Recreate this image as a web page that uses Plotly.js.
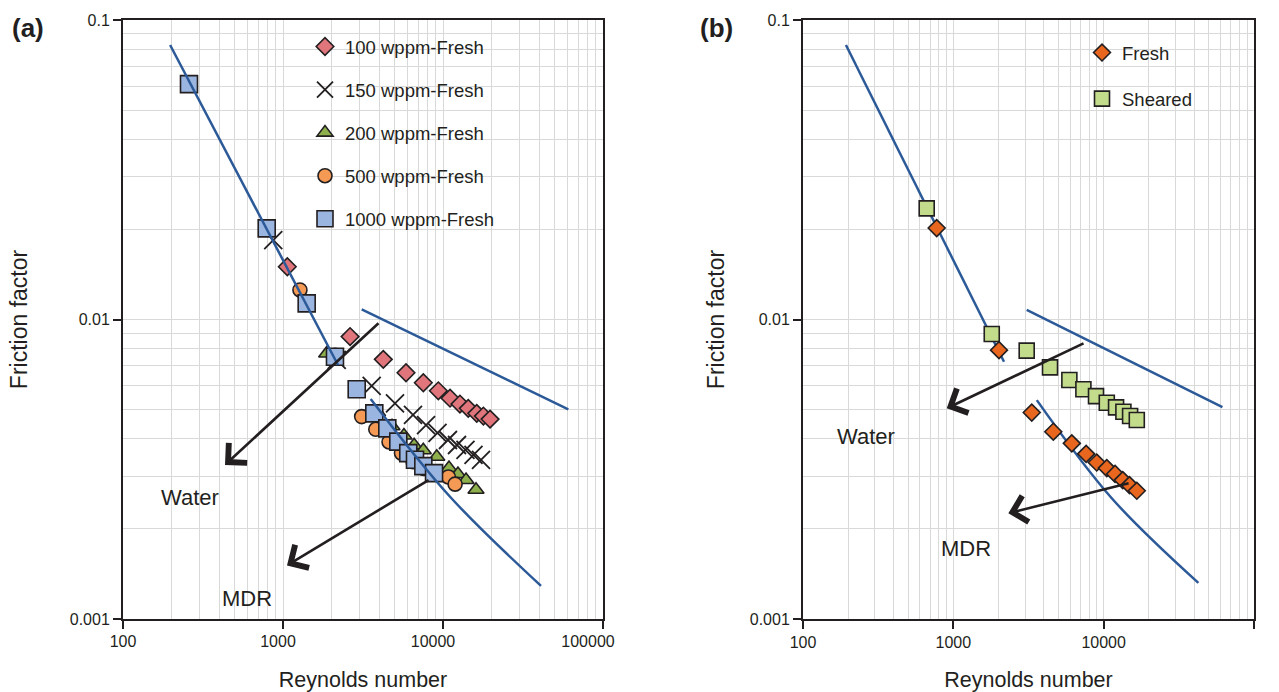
<!DOCTYPE html>
<html>
<head>
<meta charset="utf-8">
<script src="https://cdn.plot.ly/plotly-3.0.1.min.js"></script>
<style>html,body{margin:0;padding:0;background:#fff;}#chart{width:1279px;height:692px;}</style>
</head>
<body>
<div id="chart"></div>
<script>
// ---------- Panel (a) data: Reynolds number vs friction factor ----------
const re100 = [1064, 2625, 4234, 5873, 7535, 9352, 11070, 12760, 14380, 16250, 17880, 19680];
const f100  = [0.0150, 0.00877, 0.00736, 0.00664, 0.00615, 0.00578, 0.00546, 0.00522, 0.00505, 0.00486, 0.00476, 0.00465];
const re150 = [869, 2167, 3583, 5012, 6494, 7834, 9240, 10740, 12230, 13820, 15510, 17280];
const f150  = [0.0184, 0.00733, 0.0060, 0.00525, 0.0048, 0.00444, 0.00418, 0.00396, 0.00381, 0.00367, 0.00353, 0.0034];
const re200 = [1875, 3900, 4800, 5700, 6600, 7530, 9140, 10900, 12400, 13930, 16080];
const f200  = [0.0077, 0.0049, 0.0044, 0.0041, 0.0038, 0.00366, 0.00348, 0.00319, 0.00305, 0.00291, 0.0027];
const re500 = [1276, 2120, 3102, 3800, 4600, 5500, 6500, 7600, 8900, 10800, 11900];
const f500  = [0.01255, 0.0076, 0.00474, 0.0043, 0.0039, 0.00358, 0.00335, 0.00318, 0.00306, 0.00298, 0.00282];
const re1000 = [258.5, 791, 1406, 2113, 2888, 3721, 4487, 5256, 6067, 6683, 7535, 8790];
const f1000  = [0.0611, 0.02015, 0.01132, 0.00751, 0.00585, 0.00486, 0.00433, 0.00391, 0.00358, 0.0034, 0.00324, 0.00307];
// reference lines (a)
const reLamA = [197, 2207];   const fLamA = [0.0825, 0.00705];
const reTurbA = [3104, 60700]; const fTurbA = [0.0108, 0.00501];
const reMdrA = [3532, 11070, 40980]; const fMdrA = [0.00543, 0.00256, 0.00129];

// ---------- Panel (b) data ----------
const reFresh = [775, 2013, 3324, 4624, 6139, 7643, 8995, 10490, 11910, 13400, 14850, 16610];
const fFresh  = [0.0202, 0.0079, 0.00489, 0.00422, 0.00386, 0.00356, 0.00333, 0.00319, 0.00305, 0.00291, 0.0028, 0.00268];
const reSheared = [665, 1801, 3076, 4397, 5914, 7330, 8895, 10490, 12090, 13530, 14990, 16610];
const fSheared  = [0.0235, 0.00895, 0.00787, 0.00692, 0.00628, 0.00585, 0.00555, 0.00527, 0.00509, 0.00492, 0.00476, 0.00462];
const reLamB = [193, 2173];    const fLamB = [0.0825, 0.00723];
const reTurbB = [3076, 61660]; const fTurbB = [0.01077, 0.0051];
const reMdrB = [3591, 11320, 42660]; const fMdrB = [0.00538, 0.00253, 0.00132];

// ---------- Axis ticks ----------
const xTickVals = [100, 1000, 10000, 100000];
const xTickText = ['100', '1000', '10000', '100000'];
const yTickVals = [0.001, 0.01, 0.1];
const yTickText = ['0.001', '0.01', '0.1'];

// arrows: [tailRe, tailF, headRe, headF]
const arrowWaterA = [4039, 0.00982, 434, 0.00327];
const arrowMdrA   = [8300, 0.00293, 1059, 0.00151];
const arrowWaterB = [7516, 0.00837, 904, 0.00505];
const arrowMdrB   = [14990, 0.00285, 2323, 0.002255];

function minorVals(decades) {
  const out = [];
  decades.forEach(d => { for (let k = 2; k <= 9; k++) out.push(k * d); });
  return out;
}
const xMinor = minorVals([100, 1000, 10000]);
const yMinor = minorVals([0.001, 0.01]);

const INK = '#231f20';
const BLUE = '#2c5a98';
const FONT = 'Liberation Sans, Arial, sans-serif';
const mline = {color: INK, width: 1.6};

const traces = [
  // empty trace that carries the (slightly compressed) tick-label scale of panel (a)
  {x: [], y: [], xaxis: 'x3', yaxis: 'y3', mode: 'markers', showlegend: false, hoverinfo: 'skip'},
  {x: re100, y: f100, name: '100 wppm-Fresh', mode: 'markers', legendgroup: 'g1',
   marker: {symbol: 'diamond', size: 13.5, color: '#e0757b', line: mline}},
  {x: re150, y: f150, name: '150 wppm-Fresh', mode: 'markers', legendgroup: 'g2',
   marker: {symbol: 'x-thin-open', size: 18, color: INK, line: {color: INK, width: 1.8}}},
  {x: re200, y: f200, name: '200 wppm-Fresh', mode: 'markers', legendgroup: 'g3',
   marker: {symbol: 'triangle-up', size: 14, color: '#8eb04c', line: mline}},
  {x: re500, y: f500, name: '500 wppm-Fresh', mode: 'markers', legendgroup: 'g4',
   marker: {symbol: 'circle', size: 14, color: '#f59a55', line: mline}},
  {x: re1000, y: f1000, name: '1000 wppm-Fresh', mode: 'markers', legendgroup: 'g5',
   marker: {symbol: 'square', size: 17, color: '#9ab5e0', line: mline}},
  {x: reLamA, y: fLamA, mode: 'lines', showlegend: false, line: {color: BLUE, width: 2.5}, hoverinfo: 'skip'},
  {x: reTurbA, y: fTurbA, mode: 'lines', showlegend: false, line: {color: BLUE, width: 2.5}, hoverinfo: 'skip'},
  {x: reMdrA, y: fMdrA, mode: 'lines', showlegend: false, line: {color: BLUE, width: 2.5, shape: 'spline', smoothing: 1}, hoverinfo: 'skip'},

  {x: reLamB, y: fLamB, xaxis: 'x2', yaxis: 'y2', mode: 'lines', showlegend: false, line: {color: BLUE, width: 2.5}, hoverinfo: 'skip'},
  {x: reTurbB, y: fTurbB, xaxis: 'x2', yaxis: 'y2', mode: 'lines', showlegend: false, line: {color: BLUE, width: 2.5}, hoverinfo: 'skip'},
  {x: reMdrB, y: fMdrB, xaxis: 'x2', yaxis: 'y2', mode: 'lines', showlegend: false, line: {color: BLUE, width: 2.5, shape: 'spline', smoothing: 1}, hoverinfo: 'skip'},
  {x: reSheared, y: fSheared, xaxis: 'x2', yaxis: 'y2', name: 'Sheared', mode: 'markers', legend: 'legend2',
   legendgroup: 'h2', legendrank: 2,
   marker: {symbol: 'square', size: 15, color: '#c2dc8c', line: mline}},
  {x: reFresh, y: fFresh, xaxis: 'x2', yaxis: 'y2', name: 'Fresh', mode: 'markers', legend: 'legend2',
   legendgroup: 'h1', legendrank: 1,
   marker: {symbol: 'diamond', size: 13, color: '#e8661e', line: mline}}
];

function xAxis(domain, standoff, showLabels) {
  return {
    type: 'log', range: [2, 5], domain: domain,
    tickmode: 'array', tickvals: xTickVals, ticktext: xTickText, showticklabels: showLabels,
    ticks: 'outside', ticklen: 8, tickwidth: 2, tickcolor: INK,
    showline: true, linecolor: INK, linewidth: 2, mirror: true,
    showgrid: true, gridcolor: '#d9d9d9', gridwidth: 1,
    minor: {tickmode: 'array', tickvals: xMinor, showgrid: true, gridcolor: '#d9d9d9', gridwidth: 1, ticks: ''},
    zeroline: false,
    tickfont: {family: FONT, size: 16, color: INK},
    title: {text: 'Reynolds number', font: {family: FONT, size: 21.5, color: INK}, standoff: standoff}
  };
}
function yAxis(anchor, standoff) {
  return {
    type: 'log', range: [-3, -1], domain: [0, 1], anchor: anchor,
    tickmode: 'array', tickvals: yTickVals, ticktext: yTickText,
    ticks: 'outside', ticklen: 8, tickwidth: 2, tickcolor: INK,
    showline: true, linecolor: INK, linewidth: 2, mirror: true,
    showgrid: true, gridcolor: '#d9d9d9', gridwidth: 1,
    minor: {tickmode: 'array', tickvals: yMinor, showgrid: true, gridcolor: '#d9d9d9', gridwidth: 1, ticks: ''},
    zeroline: false,
    tickfont: {family: FONT, size: 16, color: INK},
    title: {text: 'Friction factor', font: {family: FONT, size: 23, color: INK}, standoff: standoff}
  };
}

function arrow(a, xr, yr) {
  return {
    xref: xr, yref: yr, axref: xr, ayref: yr,
    x: Math.log10(a[2]), y: Math.log10(a[3]),
    ax: Math.log10(a[0]), ay: Math.log10(a[1]),
    text: '', showarrow: true, arrowhead: 4, arrowsize: 2, arrowwidth: 2.6, arrowcolor: INK,
    standoff: 0, startstandoff: 0
  };
}
function label(txt, xr, yr, re, f) {
  return {xref: xr, yref: yr, x: Math.log10(re), y: Math.log10(f), text: txt, showarrow: false,
          xanchor: 'center', yanchor: 'middle', font: {family: FONT, size: 22, color: INK}};
}

const W = 1279, H = 692, T = 20, B = 73;
const py = p => (H - B - p) / (H - T - B);

const layout = {
  width: W, height: H,
  margin: {l: 0, r: 0, t: T, b: B},
  paper_bgcolor: '#ffffff', plot_bgcolor: 'rgba(0,0,0,0)',
  font: {family: FONT, color: INK},
  showlegend: true,
  xaxis: xAxis([123 / W, 603 / W], 44, false),
  yaxis: yAxis('x', 36),
  xaxis2: xAxis([803 / W, 1254 / W], 25, true),
  yaxis2: yAxis('x2', 19),
  xaxis3: {type: 'log', range: [2, 5], domain: [123 / W, 588 / W], anchor: 'y3',
           tickmode: 'array', tickvals: xTickVals, ticktext: xTickText,
           ticks: 'outside', ticklen: 8, tickcolor: 'rgba(0,0,0,0)', showline: false, showgrid: false,
           zeroline: false, tickfont: {family: FONT, size: 16, color: INK}},
  yaxis3: {domain: [0, 1], anchor: 'x3', visible: false, showgrid: false, zeroline: false},
  legend: {x: 305 / W, y: py(28), xanchor: 'left', yanchor: 'top', bgcolor: 'rgba(0,0,0,0)',
           traceorder: 'grouped', tracegroupgap: 16, font: {family: FONT, size: 18.5, color: INK}},
  legend2: {x: 1082 / W, y: py(34), xanchor: 'left', yanchor: 'top', bgcolor: 'rgba(0,0,0,0)',
            traceorder: 'grouped', tracegroupgap: 19, font: {family: FONT, size: 18.5, color: INK}},
  shapes: [
    {type: 'rect', xref: 'paper', yref: 'paper', layer: 'between', x0: 310 / W, x1: 601 / W, y0: py(237), y1: py(21),
     fillcolor: '#ffffff', line: {width: 0}},
    {type: 'rect', xref: 'paper', yref: 'paper', layer: 'between', x0: 1063 / W, x1: 1252 / W, y0: py(120), y1: py(21),
     fillcolor: '#ffffff', line: {width: 0}}
  ],
  annotations: [
    arrow(arrowWaterA, 'x', 'y'), arrow(arrowMdrA, 'x', 'y'),
    arrow(arrowWaterB, 'x2', 'y2'), arrow(arrowMdrB, 'x2', 'y2'),
    label('Water', 'x', 'y', 262, 0.00255),
    label('MDR', 'x', 'y', 596, 0.001175),
    label('Water', 'x2', 'y2', 262, 0.00406),
    label('MDR', 'x2', 'y2', 1215, 0.001726),
    {xref: 'paper', yref: 'paper', x: 28 / W, y: py(28), xanchor: 'center', yanchor: 'middle',
     text: '<b>(a)</b>', showarrow: false, font: {family: FONT, size: 26, color: INK}},
    {xref: 'paper', yref: 'paper', x: 716 / W, y: py(28), xanchor: 'center', yanchor: 'middle',
     text: '<b>(b)</b>', showarrow: false, font: {family: FONT, size: 26, color: INK}}
  ]
};

Plotly.newPlot('chart', traces, layout, {displayModeBar: false, staticPlot: true});
</script>
</body>
</html>
